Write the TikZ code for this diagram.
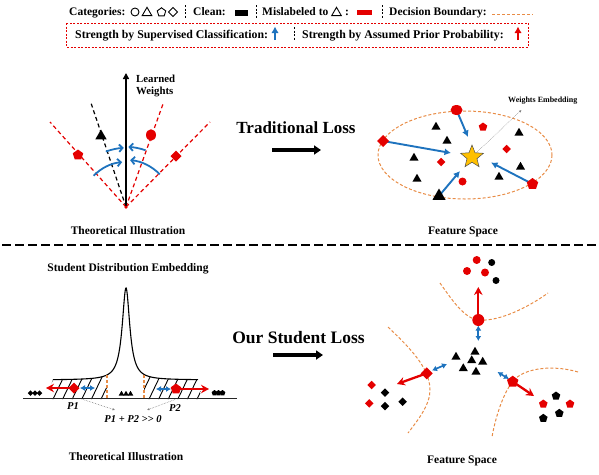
\documentclass[tikz,border=0pt]{standalone}
\usepackage{fontspec}
\setmainfont{Liberation Serif}
\usetikzlibrary{shapes.geometric,arrows.meta,calc}
\definecolor{myred}{RGB}{228,0,0}
\definecolor{myblue}{RGB}{30,115,190}
\definecolor{myorange}{RGB}{232,140,70}
\definecolor{mygold}{RGB}{255,192,0}
\newcommand{\myfs}[1]{\fontsize{#1}{#1}\selectfont}
\begin{document}
\begin{tikzpicture}[x=1pt,y=-1pt,
  txt/.style={font=\bfseries\myfs{11.5}, inner sep=0pt},
  ttl/.style={font=\bfseries\myfs{17}, inner sep=0pt},
  ptxt/.style={font=\bfseries\itshape\myfs{10.5}, inner sep=0pt},
  mk/.style={inner sep=0pt, outer sep=0pt},
  rc/.style={mk,circle,fill=myred,minimum size=#1}, rc/.default=10pt,
  bc/.style={mk,circle,fill=black,minimum size=#1}, bc/.default=7pt,
  rd/.style={mk,diamond,fill=myred,minimum size=#1}, rd/.default=10pt,
  bd/.style={mk,diamond,fill=black,minimum size=#1}, bd/.default=8pt,
  rp/.style={mk,regular polygon,regular polygon sides=5,fill=myred,minimum size=#1}, rp/.default=10pt,
  bp/.style={mk,regular polygon,regular polygon sides=5,fill=black,minimum size=#1}, bp/.default=8pt,
  bt/.style={mk,regular polygon,regular polygon sides=3,fill=black,minimum size=#1}, bt/.default=10.5pt,
  outl/.style={mk,draw=black,line width=0.9pt,fill=none},
  legsep/.style={black,line width=0.8pt,dash pattern=on 2pt off 1.5pt},
  bound/.style={myorange,line width=1pt,dash pattern=on 3pt off 2pt},
  barr/.style={myblue,line width=1.9pt,-{Latex[length=6.5pt,width=7pt]}},
  bdbl/.style={myblue,line width=1.7pt,{Latex[length=5pt,width=6pt]}-{Latex[length=5pt,width=6pt]}},
  rarr/.style={myred,line width=2.3pt,-{Stealth[length=8pt,width=8.5pt]}},
  barc/.style={myblue,line width=1.8pt,-{Straight Barb[length=3.5pt,width=7.5pt]}},
  bigarr/.style={black,line width=3.5pt,-{Triangle[length=7pt,width=9pt]}},
  rdash/.style={myred,line width=1.2pt,dash pattern=on 4pt off 3pt},
  kdash/.style={black,line width=1.2pt,dash pattern=on 4pt off 3pt},
  dotarr/.style={gray,line width=0.6pt,densely dotted,-{Latex[length=2.5pt,width=2.5pt]}}
]
\useasboundingbox (0,0) rectangle (599,474);

% ---------------- legend ----------------
\node[txt,anchor=base west] (lcat) at (69,15.5) {Categories:};
\node[outl,circle,minimum size=8pt] (lsc) at (135,12) {};
\node[outl,regular polygon,regular polygon sides=3,minimum size=11pt] (lst) at (147,12.8) {};
\node[outl,regular polygon,regular polygon sides=5,minimum size=9pt] (lsp) at (161.5,12.3) {};
\node[outl,diamond,minimum size=9pt] (lsd) at (173,12) {};
\coordinate (s1a) at (185,5); \coordinate (s1b) at (185,19);
\draw[legsep] (s1a) -- (s1b);
\node[txt,anchor=base west] (lclean) at (193,15.5) {Clean:};
\node[mk,rectangle,fill=black,minimum width=13pt,minimum height=5.5pt] (lcr) at (241.5,13) {};
\coordinate (s2a) at (256,5); \coordinate (s2b) at (256,19);
\draw[legsep] (s2a) -- (s2b);
\node[txt,anchor=base west] (lmis) at (262,15.5) {Mislabeled to};
\node[outl,regular polygon,regular polygon sides=3,minimum size=11pt] (lmt) at (336.5,12.8) {};
\node[txt,anchor=base west] (lcol) at (345,15.5) {:};
\node[mk,rectangle,fill=myred,minimum width=15pt,minimum height=5.5pt] (lrr) at (364,12.5) {};
\coordinate (s3a) at (382,5); \coordinate (s3b) at (382,19);
\draw[legsep] (s3a) -- (s3b);
\node[txt,anchor=base west] (ldb) at (389,15.5) {Decision Boundary:};
\coordinate (lda) at (492,14); \coordinate (ldb2) at (533,14);
\draw[bound] (lda) -- (ldb2);

\draw[myred,line width=0.9pt,dash pattern=on 2pt off 1.5pt] (66.5,23) rectangle (528,47);
\node[txt,font=\bfseries\myfs{11.8},anchor=base west] (lsup) at (75,38.5) {Strength by Supervised Classification:};
\coordinate (lba) at (275,40); \coordinate (lbb) at (275,26.5);
\draw[myblue,line width=1.9pt,-{Latex[length=6.5pt,width=7.5pt]}] (lba) -- (lbb);
\coordinate (s4a) at (294,27); \coordinate (s4b) at (294,41);
\draw[legsep] (s4a) -- (s4b);
\node[txt,font=\bfseries\myfs{11.8},anchor=base west] (lpri) at (302,38.5) {Strength by Assumed Prior Probability:};
\coordinate (lra) at (518,40); \coordinate (lrb) at (518,26.5);
\draw[myred,line width=1.9pt,-{Latex[length=6.5pt,width=7.5pt]}] (lra) -- (lrb);

% ---------------- top-left illustration ----------------
\coordinate (o) at (126,207);
\coordinate (lk) at (91,103);
\coordinate (l1) at (50,122);
\coordinate (l2) at (163,104);
\coordinate (l3) at (210,122);
\coordinate (vt) at (126,73);
\draw[kdash] (o) -- (lk);
\draw[rdash] (o) -- (l1);
\draw[rdash] (o) -- (l2);
\draw[rdash] (o) -- (l3);
\draw[black,line width=1.8pt,-{Triangle[length=6pt,width=6pt]}] (o) -- (vt);
\node[mk,circle,fill=myred,minimum size=3.5pt] (odot) at (o) {};
\node[font=\bfseries\myfs{10.8},anchor=north west,align=left,inner sep=0pt] (lw) at (136,74.5) {Learned\\[2pt]Weights};
\node[bt=13pt] (tlt) at (101,136) {};
\node[rp=11pt] (tlp) at (78,155) {};
\node[mk,ellipse,fill=myred,minimum width=10pt,minimum height=11.5pt] (tlc) at (151,135) {};
\node[rd=11pt] (tld) at (176,156) {};
\draw[barc] ($(o)+(-136:45)$) arc[start angle=-136,end angle=-95,radius=45];
\draw[barc] ($(o)+(-44:47)$) arc[start angle=-44,end angle=-85,radius=47];
\draw[barc] ($(o)+(-110:59)$) arc[start angle=-110,end angle=-93,radius=62];
\draw[barc] ($(o)+(-71:60)$) arc[start angle=-71,end angle=-87,radius=63];
\node[txt] (th1) at (128,231) {Theoretical Illustration};

% ---------------- middle top ----------------
\node[ttl] (tl) at (296,128) {Traditional Loss};
\coordinate (ta1) at (272,150); \coordinate (ta2) at (321,150);
\draw[bigarr] (ta1) -- (ta2);

% ---------------- top-right feature space ----------------
\draw[bound] (465,155) ellipse[x radius=87,y radius=44];
\coordinate (pfc) at (456.5,110);
\coordinate (pfd) at (383,141);
\coordinate (pft) at (439,196);
\coordinate (pfp) at (532.5,184);
\coordinate (efc) at (468,137);
\coordinate (efd) at (451,153);
\coordinate (eft) at (460,171);
\coordinate (efp) at (491,162.5);
\draw[barr] (pfc) -- (efc);
\draw[barr] (pfd) -- (efd);
\draw[barr] (pft) -- (eft);
\draw[barr] (pfp) -- (efp);
\node[mk,ellipse,fill=myred,minimum width=12pt,minimum height=10pt] (fc) at (pfc) {};
\node[rd=12pt] (fd) at (pfd) {};
\node[bt=15pt] (ft) at (pft) {};
\node[rp=12pt] (fp) at (pfp) {};
\node[bt] (s1) at (436,127) {};
\node[bt] (s2) at (447,141) {};
\node[bt] (s3) at (414,158) {};
\node[bt] (s4) at (417,179) {};
\node[bt] (s5) at (519,133) {};
\node[bt] (s6) at (520.5,167) {};
\node[bt] (s7) at (499,177) {};
\node[rp=9pt] (s8) at (483,127) {};
\node[rd=8.5pt] (s9) at (506.5,149) {};
\node[rd=8.5pt] (s10) at (441,162) {};
\node[rc=8pt] (s11) at (462.5,181.5) {};
\node[mk,star,star points=5,star point ratio=2.3,fill=mygold,draw=black!70,line width=0.5pt,minimum size=24pt] (star) at (472,157) {};
\node[font=\bfseries\myfs{8},anchor=west,inner sep=0pt] (wemb) at (508,101) {Weights Embedding};
\coordinate (wea) at (521.5,110);
\draw[gray,line width=0.5pt,densely dotted,-{Latex[length=2.5pt,width=2.5pt]}] (star.north east) -- (wea);
\node[txt] (fs1) at (463,232) {Feature Space};

% ---------------- separator ----------------
\coordinate (sepa) at (2,245); \coordinate (sepb) at (599,245);
\draw[black,line width=2.3pt,dash pattern=on 9pt off 4pt] (sepa) -- (sepb);

% ---------------- bottom-left illustration ----------------
\node[txt] (sde) at (128,269) {Student Distribution Embedding};
\begin{scope}
\clip (46,399) -- plot[domain=-73:-19,samples=60] ({\x+126},{380-92/(1+(\x/4.6)^2)}) -- (107,399) -- cycle;
\foreach \i in {0,...,7} \draw[line width=0.9pt] ({43+\i*9.6},400) -- ++(13,-27);
\end{scope}
\begin{scope}
\clip (144,399) -- plot[domain=18:72,samples=60] ({\x+126},{380-92/(1+(\x/4.6)^2)}) -- (202,399) -- cycle;
\foreach \i in {0,...,7} \draw[line width=0.9pt] ({139+\i*9.6},400) -- ++(13,-27);
\end{scope}
\draw[line width=1.1pt] plot[domain=-73:72,samples=400] ({\x+126},{380-92/(1+(\x/4.6)^2)});
\coordinate (ov1a) at (107,375); \coordinate (ov1b) at (107,398);
\coordinate (ov2a) at (144,375); \coordinate (ov2b) at (144,398);
\draw[bound,line width=1.3pt] (ov1a) -- (ov1b);
\draw[bound,line width=1.3pt] (ov2a) -- (ov2b);
\coordinate (bla) at (23,398.5); \coordinate (blb) at (237,398.5);
\draw[line width=1.6pt,black!85] (bla) -- (blb);
\node[bd=5.5pt] (k1) at (30.5,393) {};
\node[bd=5.5pt] (k2) at (35,393) {};
\node[bd=5.5pt] (k3) at (39.5,393) {};
\node[bt=6.5pt] (k4) at (121.5,394) {};
\node[bt=6.5pt] (k5) at (126,394) {};
\node[bt=6.5pt] (k6) at (130.5,394) {};
\node[bp=6pt] (k7) at (214.5,393) {};
\node[bp=6pt] (k8) at (218.5,393) {};
\node[bp=6pt] (k9) at (222.5,393) {};
\coordinate (pdl) at (74,388);
\coordinate (pdr) at (176,389);
\coordinate (rl) at (46,388); \coordinate (blr1) at (80,388); \coordinate (blr2) at (95,388);
\coordinate (rr) at (209,389); \coordinate (brr1) at (171,389); \coordinate (brr2) at (156,389);
\draw[rarr,line width=2pt] (pdl) -- (rl);
\draw[rarr,line width=2pt] (pdr) -- (rr);
\draw[bdbl] (blr1) -- (blr2);
\draw[bdbl] (brr1) -- (brr2);
\node[rd=11pt] (dl) at (pdl) {};
\node[rp=11pt] (dr) at (pdr) {};
\node[ptxt] (p1) at (73,406) {P1};
\node[ptxt] (p2) at (175,408) {P2};
\node[ptxt] (psum) at (133,419.5) {P1 + P2 >{}> 0};
\coordinate (q1a) at (83,399.5); \coordinate (q1b) at (115,410);
\coordinate (q2a) at (175,399.5); \coordinate (q2b) at (147,410);
\draw[dotarr] (q1a) -- (q1b);
\draw[dotarr] (q2a) -- (q2b);
\node[txt] (th2) at (126,457) {Theoretical Illustration};

% ---------------- middle bottom ----------------
\node[ttl,font=\bfseries\myfs{17.5}] (sl) at (298.5,338) {Our Student Loss};
\coordinate (sa1) at (273,355); \coordinate (sa2) at (323,355);
\draw[bigarr] (sa1) -- (sa2);

% ---------------- bottom-right feature space ----------------
\draw[bound] (440,283) .. controls (452,300) and (464,318) .. (478,320) .. controls (500,322) and (530,306) .. (548,293);
\draw[bound] (388,327) .. controls (410,348) and (430,368) .. (430,390) .. controls (430,405) and (418,420) .. (408,433);
\draw[bound] (578,372) .. controls (555,365) and (525,367) .. (513,381) .. controls (502,395) and (495,420) .. (492,437);
\coordinate (ptc) at (478.3,320);
\coordinate (ptd) at (426.7,373.3);
\coordinate (ptp) at (512.7,381.7);
\coordinate (rtu) at (478.3,287); \coordinate (btu1) at (478.3,325.5); \coordinate (btu2) at (478.3,341);
\coordinate (rld) at (397,384); \coordinate (bld1) at (432,370.5); \coordinate (bld2) at (447,364);
\coordinate (rrp) at (534,396); \coordinate (brp1) at (509,379); \coordinate (brp2) at (497.5,372);
\draw[rarr] (ptc) -- (rtu);
\draw[rarr] (ptd) -- (rld);
\draw[rarr] (ptp) -- (rrp);
\draw[bdbl] (btu1) -- (btu2);
\draw[bdbl] (bld1) -- (bld2);
\draw[bdbl] (brp1) -- (brp2);
\node[rc=12pt] (gc) at (ptc) {};
\node[rd=12pt] (gd) at (ptd) {};
\node[rp=12pt] (gp) at (ptp) {};
% top cluster
\node[rc=8pt] (u1) at (476.7,260) {};
\node[rc=8pt] (u2) at (467,271) {};
\node[rc=8pt] (u3) at (485,272.5) {};
\node[bc=7pt] (u4) at (491.7,262.5) {};
\node[bc=7pt] (u5) at (496,280.5) {};
% center triangles
\node[bt] (v1) at (456,357) {};
\node[bt] (v2) at (475,352) {};
\node[bt] (v3) at (471.7,360.5) {};
\node[bt] (v4) at (482.7,362) {};
\node[bt] (v5) at (463.3,368.5) {};
\node[bt] (v6) at (476,372) {};
% left cluster
\node[rd=8.5pt] (w1) at (371.7,385) {};
\node[rd=8.5pt] (w2) at (369.3,403.3) {};
\node[bd=8.5pt] (w3) at (385,392.7) {};
\node[bd=8.5pt] (w4) at (385,406) {};
\node[bd=8.5pt] (w5) at (402.7,401.7) {};
% right cluster
\node[bp=9pt] (z1) at (556,396) {};
\node[rp=9pt] (z2) at (543.3,404) {};
\node[rp=9pt] (z3) at (570,404) {};
\node[bp=9pt] (z4) at (543.3,418.3) {};
\node[bp=9pt] (z5) at (559.3,413.3) {};
\node[txt] (fs2) at (462,461) {Feature Space};
\end{tikzpicture}
\end{document}
